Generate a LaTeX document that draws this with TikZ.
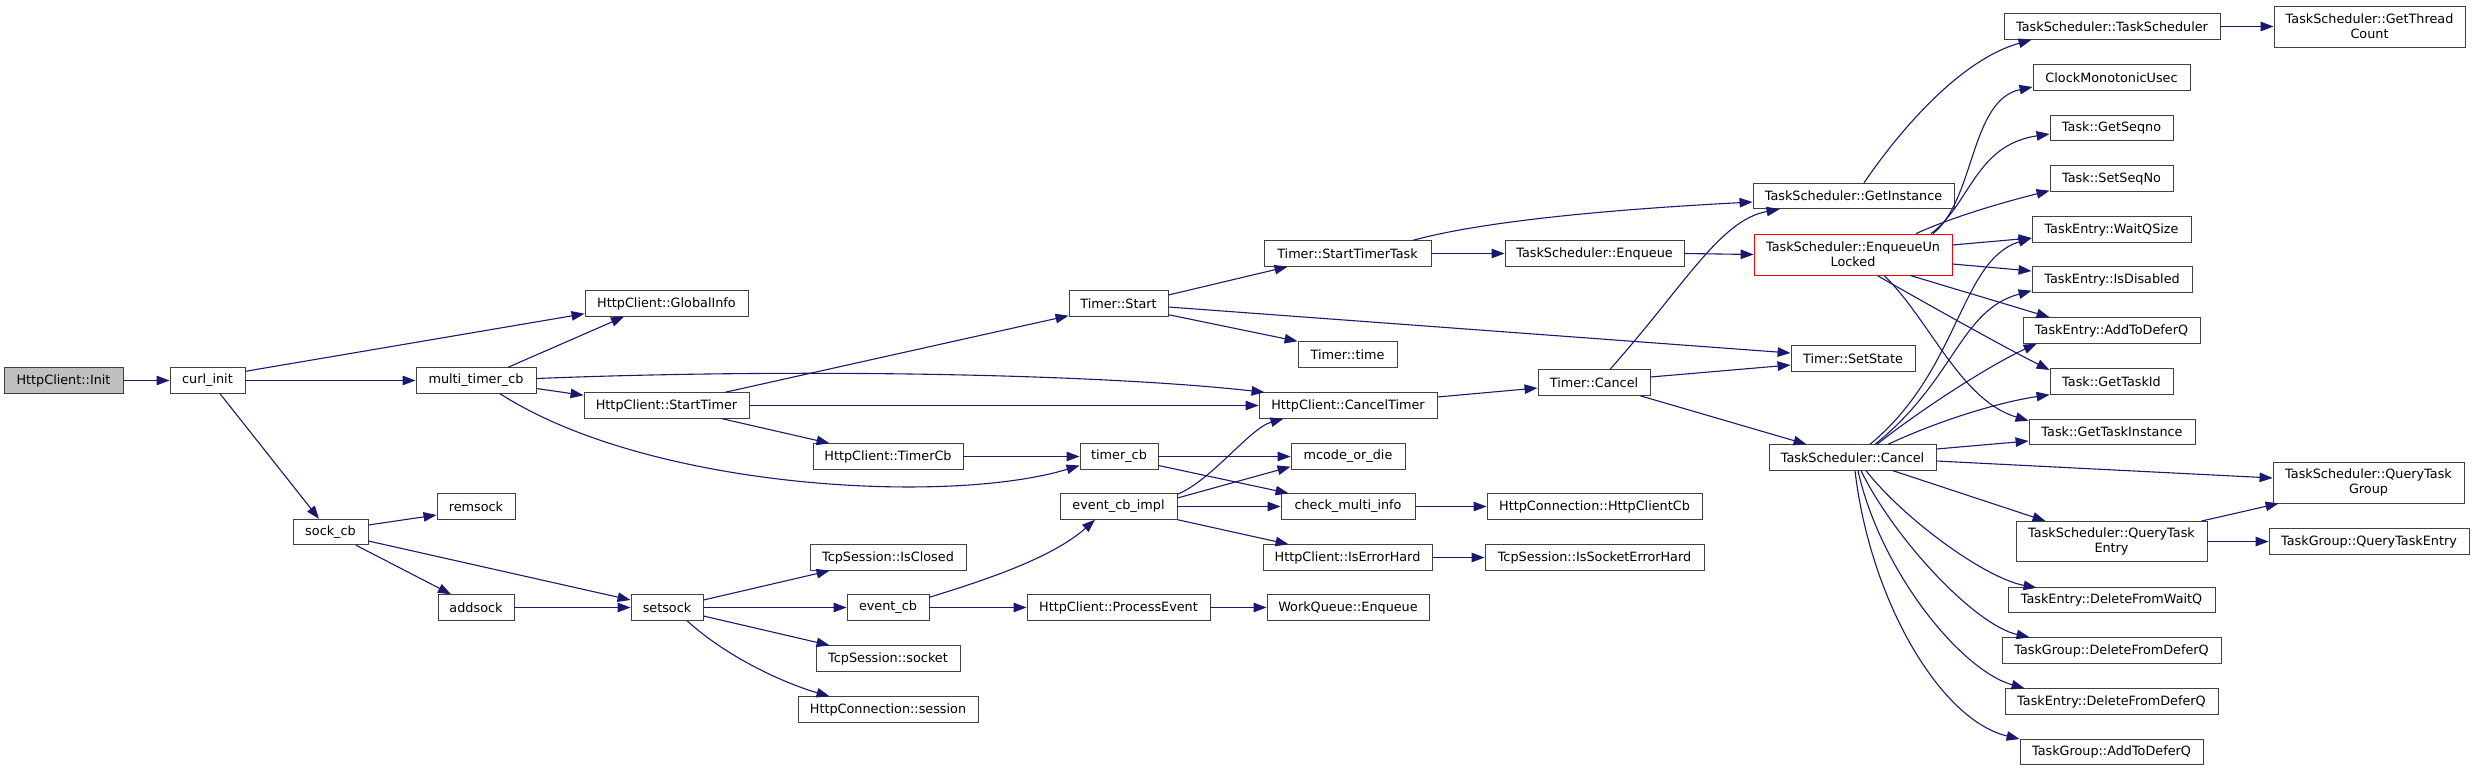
\documentclass[tikz,border=0pt]{standalone}
\usepackage{fontspec}
\setmainfont{DejaVu Sans}
\usetikzlibrary{arrows.meta,calc}
\definecolor{edgeblue}{HTML}{191970}
\definecolor{rootgray}{HTML}{BFBFBF}
\begin{document}
\begin{tikzpicture}[x=1pt,y=-1pt,
  fn/.style={draw=black!75, line width=0.9pt, fill=white, inner sep=0pt, minimum height=25.5pt, font=\fontsize{12.8}{15}\selectfont, anchor=center},
  two/.style={fn, minimum height=41pt, align=center},
  call/.style={draw=edgeblue, line width=1.1pt, -{Triangle[length=13pt,width=9.5pt]}}]
\fill[white] (0,0) rectangle (2475,771);
\useasboundingbox (0,0) rectangle (2475,771);
% column 1-4
\node[fn, fill=rootgray, minimum width=119] (init) at (63.5,380.5) {HttpClient::Init};
\node[fn, minimum width=75] (curl) at (207.5,380.5) {curl\_init};
\node[fn, minimum width=120] (mtcb) at (476,380.5) {multi\_timer\_cb};
\node[fn, minimum width=75] (sockcb) at (330.5,532) {sock\_cb};
\node[fn, minimum width=78] (remsock) at (476,506.5) {remsock};
\node[fn, minimum width=76] (addsock) at (476,607.5) {addsock};
% column 5
\node[fn, minimum width=163] (gi) at (666.5,303.5) {HttpClient::GlobalInfo};
\node[fn, minimum width=165] (st) at (666.5,405.5) {HttpClient::StartTimer};
\node[fn, minimum width=72] (setsock) at (667,607.5) {setsock};
% column 6
\node[fn, minimum width=150] (tcb) at (888,456.5) {HttpClient::TimerCb};
\node[fn, minimum width=156] (isclosed) at (888,557.5) {TcpSession::IsClosed};
\node[fn, minimum width=82] (eventcb) at (888,607.5) {event\_cb};
\node[fn, minimum width=144] (socket) at (888,658.5) {TcpSession::socket};
\node[fn, minimum width=180] (session) at (888,709.5) {HttpConnection::session};
% column 7
\node[fn, minimum width=99] (tstart) at (1118.5,303.5) {Timer::Start};
\node[fn, minimum width=78] (timercb) at (1119,456.5) {timer\_cb};
\node[fn, minimum width=117] (ecbi) at (1118.5,506.5) {event\_cb\_impl};
\node[fn, minimum width=183] (procev) at (1118.5,607.5) {HttpClient::ProcessEvent};
% column 8
\node[fn, minimum width=167] (stt) at (1347.5,253.5) {Timer::StartTimerTask};
\node[fn, minimum width=99] (ttime) at (1347.5,354.5) {Timer::time};
\node[fn, minimum width=178] (ct) at (1348,405.5) {HttpClient::CancelTimer};
\node[fn, minimum width=114] (mcode) at (1348,456.5) {mcode\_or\_die};
\node[fn, minimum width=134] (cmi) at (1348,506.5) {check\_multi\_info};
\node[fn, minimum width=169] (ieh) at (1347.5,557.5) {HttpClient::IsErrorHard};
\node[fn, minimum width=162] (wqe) at (1348,607.5) {WorkQueue::Enqueue};
% column 9
\node[fn, minimum width=179] (tsenq) at (1594.5,253.5) {TaskScheduler::Enqueue};
\node[fn, minimum width=112] (tcancel) at (1594,382.5) {Timer::Cancel};
\node[fn, minimum width=215] (hccb) at (1594.5,506.5) {HttpConnection::HttpClientCb};
\node[fn, minimum width=219] (iseh) at (1594.5,557.5) {TcpSession::IsSocketErrorHard};
% column 10
\node[fn, minimum width=201] (getinst) at (1853.5,196) {TaskScheduler::GetInstance};
\node[two, draw=red, line width=0.8pt, minimum width=198] (equl) at (1853,254.5) {TaskScheduler::EnqueueUn\\Locked};
\node[fn, minimum width=124] (setstate) at (1853,358.5) {Timer::SetState};
\node[fn, minimum width=167] (tscancel) at (1852.5,457.5) {TaskScheduler::Cancel};
% column 11
\node[fn, minimum width=216] (tsts) at (2112,26.5) {TaskScheduler::TaskScheduler};
\node[fn, minimum width=157] (clock) at (2111.5,77.5) {ClockMonotonicUsec};
\node[fn, minimum width=123] (getseqno) at (2111.5,128) {Task::GetSeqno};
\node[fn, minimum width=123] (setseqno) at (2111.5,178.5) {Task::SetSeqNo};
\node[fn, minimum width=159] (waitq) at (2111.5,229.5) {TaskEntry::WaitQSize};
\node[fn, minimum width=160] (isdis) at (2112,279.5) {TaskEntry::IsDisabled};
\node[fn, minimum width=177] (addtodq) at (2111.5,330.5) {TaskEntry::AddToDeferQ};
\node[fn, minimum width=123] (gettaskid) at (2111.5,381.5) {Task::GetTaskId};
\node[fn, minimum width=166] (gti) at (2112,432) {Task::GetTaskInstance};
\node[two, minimum width=191, minimum height=40] (qte) at (2111.5,541.5) {TaskScheduler::QueryTask\\Entry};
\node[fn, minimum width=207] (dfwq) at (2111.5,600) {TaskEntry::DeleteFromWaitQ};
\node[fn, minimum width=219] (tgdfdq) at (2111.5,650.5) {TaskGroup::DeleteFromDeferQ};
\node[fn, minimum width=213] (tedfdq) at (2111.5,701.5) {TaskEntry::DeleteFromDeferQ};
\node[fn, minimum width=183] (tgadq) at (2111.5,752) {TaskGroup::AddToDeferQ};
% column 12
\node[two, minimum width=191] (gtc) at (2369.5,26.5) {TaskScheduler::GetThread\\Count};
\node[two, minimum width=191] (qtg) at (2368.5,482.5) {TaskScheduler::QueryTask\\Group};
\node[fn, minimum width=200] (tgqte) at (2369,541.5) {TaskGroup::QueryTaskEntry};
% edges
\draw[call] (init.east) -- (curl.west);
\draw[call] ($(curl.north east)+(0,4)$) -- ($(gi.south west)+(0,-3)$);
\draw[call] (curl.east) -- (mtcb.west);
\draw[call] ($(curl.south)+(12.5,0)$) -- ($(sockcb.north)+(-11.5,0)$);
\draw[call] ($(mtcb.north)+(32,0)$) -- ($(gi.south)+(-42.5,0)$);
\draw[call] ($(mtcb.east)+(0,-2)$) .. controls (800,368) and (1100,374) .. ($(ct.north west)+(6,0)$);
\draw[call] ($(mtcb.east)+(0,8)$) -- ($(st.north west)+(0,3)$);
\draw[call] ($(mtcb.south)+(24,0)$) .. controls (650,490) and (950,505) .. ($(timercb.west)+(0,9)$);
\draw[call] ($(st.north)+(58.5,0)$) -- ($(tstart.south west)+(0,-1)$);
\draw[call] (st.east) -- (ct.west);
\draw[call] ($(st.south)+(55.5,0)$) -- ($(tcb.north west)+(17,0)$);
\draw[call] (tcb.east) -- (timercb.west);
\draw[call] (timercb.east) -- (mcode.west);
\draw[call] ($(timercb.east)+(0,9)$) -- ($(cmi.north west)+(8,0)$);
\draw[call] ($(ecbi.north east)+(0,1)$) .. controls (1212,480) and (1250,428) .. ($(ct.south west)+(25,0)$);
\draw[call] ($(ecbi.east)+(0,-8.5)$) -- ($(mcode.south west)+(0,-3)$);
\draw[call] (ecbi.east) -- (cmi.west);
\draw[call] (ecbi.south east) -- ($(ieh.north west)+(26,0)$);
\draw[call] (cmi.east) -- (hccb.west);
\draw[call] (ieh.east) -- (iseh.west);
\draw[call] ($(sockcb.east)+(0,-7)$) -- ($(remsock.west)+(0,8.5)$);
\draw[call] ($(sockcb.east)+(0,9)$) -- ($(setsock.west)+(0,-7.5)$);
\draw[call] ($(sockcb.south)+(25.5,0)$) -- ($(addsock.north)+(-25,0)$);
\draw[call] (addsock.east) -- (setsock.west);
\draw[call] ($(setsock.east)+(0,-7.5)$) -- ($(isclosed.south west)+(20,0)$);
\draw[call] (setsock.east) -- (eventcb.west);
\draw[call] ($(setsock.east)+(0,8.5)$) -- ($(socket.north west)+(14,0)$);
\draw[call] ($(setsock.south)+(20,0)$) .. controls (730,660) and (790,685) .. ($(session.north west)+(32,0)$);
\draw[call] ($(eventcb.north east)+(0,3)$) .. controls (975,583) and (1050,560) .. ($(ecbi.south)+(-23.5,0)$);
\draw[call] (eventcb.east) -- (procev.west);
\draw[call] (procev.east) -- (wqe.west);
\draw[call] ($(tstart.east)+(0,-8.5)$) -- ($(stt.south west)+(24,0)$);
\draw[call] ($(tstart.south east)+(0,-2)$) -- (ttime.north west);
\draw[call] ($(tstart.east)+(0,3.5)$) -- ($(setstate.west)+(0,-5.5)$);
\draw[call] ($(stt.north)+(65.5,0)$) .. controls (1480,222) and (1600,210) .. ($(getinst.west)+(0,6)$);
\draw[call] (stt.east) -- (tsenq.west);
\draw[call] (tsenq.east) -- (equl.west);
\draw[call] ($(ct.east)+(0,-8.5)$) -- ($(tcancel.west)+(0,5.5)$);
\draw[call] ($(tcancel.north)+(16,0)$) .. controls (1685,285) and (1720,220) .. ($(getinst.south west)+(27,0)$);
\draw[call] ($(tcancel.east)+(0,-5.5)$) -- ($(setstate.west)+(0,6.5)$);
\draw[call] ($(tcancel.south)+(46,0)$) -- ($(tscancel.north west)+(38,0)$);
\draw[call] ($(getinst.north)+(10.5,0)$) .. controls (1900,130) and (1960,60) .. ($(tsts.south west)+(28,0)$);
\draw[call] (tsts.east) -- (gtc.west);
\draw[call] ($(equl.north)+(80,0)$) .. controls (1975,200) and (1970,100) .. ($(clock.west)+(0,9.5)$);
\draw[call] ($(equl.north)+(78,0)$) .. controls (1970,205) and (1975,145) .. ($(getseqno.west)+(0,6)$);
\draw[call] ($(equl.north)+(63,0)$) .. controls (1950,218) and (2000,203) .. ($(setseqno.south west)+(0,-1)$);
\draw[call] ($(equl.east)+(0,-9.5)$) -- ($(waitq.west)+(0,8.5)$);
\draw[call] ($(equl.east)+(0,9.5)$) -- ($(isdis.west)+(0,-8.5)$);
\draw[call] ($(equl.south)+(57,0)$) -- ($(addtodq.north west)+(27,0)$);
\draw[call] ($(equl.south)+(24,0)$) .. controls (1920,300) and (2000,345) .. ($(gettaskid.west)+(0,-11.5)$);
\draw[call] ($(equl.south)+(31,0)$) .. controls (1930,320) and (1960,400) .. ($(gti.north west)+(0,2)$);
\draw[call] ($(tscancel.north)+(17.5,0)$) .. controls (1960,370) and (1960,260) .. ($(waitq.west)+(0,8.5)$);
\draw[call] ($(tscancel.north)+(22.5,0)$) .. controls (1955,380) and (1960,310) .. ($(isdis.south west)+(0,-2)$);
\draw[call] ($(tscancel.north)+(24.5,0)$) .. controls (1920,410) and (1990,365) .. ($(addtodq.south west)+(14,0)$);
\draw[call] ($(tscancel.north)+(35.5,0)$) .. controls (1940,420) and (2000,402) .. (gettaskid.south west);
\draw[call] ($(tscancel.east)+(0,-8.5)$) -- ($(gti.west)+(0,9)$);
\draw[call] ($(tscancel.east)+(0,3.5)$) -- ($(qtg.west)+(0,-4.5)$);
\draw[call] ($(tscancel.south)+(40.5,0)$) -- ($(qte.north west)+(30,0)$);
\draw[call] ($(tscancel.south)+(13.5,0)$) .. controls (1905,520) and (1985,578) .. ($(dfwq.north west)+(29,1)$);
\draw[call] ($(tscancel.south)+(8.5,0)$) .. controls (1895,540) and (1975,625) .. ($(tgdfdq.north west)+(28,0)$);
\draw[call] ($(tscancel.south)+(5.5,0)$) .. controls (1880,570) and (1960,670) .. ($(tedfdq.north west)+(20,0)$);
\draw[call] ($(tscancel.south)+(2.5,0)$) .. controls (1870,600) and (1940,720) .. ($(tgadq.west)+(0,-13)$);
\draw[call] ($(qte.north east)+(-6,0)$) -- ($(qtg.south west)+(6,0)$);
\draw[call] (qte.east) -- (tgqte.west);
\end{tikzpicture}
\end{document}
